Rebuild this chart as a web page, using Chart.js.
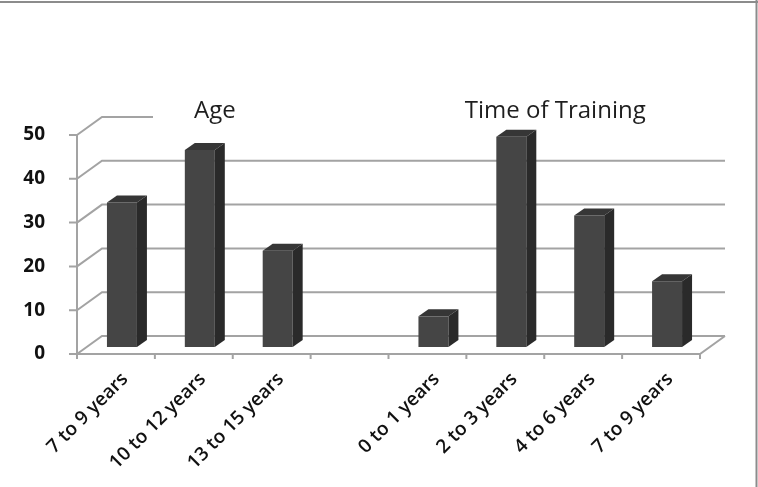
<!DOCTYPE html>
<html>
<head>
<meta charset="utf-8">
<script src="https://cdn.jsdelivr.net/npm/chart.js@4.4.1/dist/chart.umd.min.js"></script>
<style>
  html, body { margin: 0; padding: 0; background: #fff; overflow: hidden; }
  canvas { display: block; }
</style>
</head>
<body>
<canvas id="trainingChart" width="758" height="487"></canvas>
<script>
// data
var categories = ['7 to 9 years', '10 to 12 years', '13 to 15 years', '', '0 to 1 years', '2 to 3 years', '4 to 6 years', '7 to 9 years'];
var values = [33, 45, 22, null, 7, 48, 30, 15];
var yTicks = [0, 10, 20, 30, 40, 50];
var groupTitles = ['Age', 'Time of Training'];
var groupMembers = [[0, 1, 2], [4, 5, 6, 7]];
var titleNudge = [21, 11];

// fake 3d look (excel style)
var DEPTH_X = 25, DEPTH_Y = -18;
var BAR_SHIFT_X = 6, BAR_SHIFT_Y = -7;
var BAR_DX = 10, BAR_DY = -7;
var LINE = '#a3a3a3';

var wallPlugin = {
    id: 'wall3d',
    beforeDraw: function (chart) {
        var ctx = chart.ctx;
        ctx.save();
        ctx.fillStyle = '#fff';
        ctx.fillRect(0, 0, chart.width, chart.height);
        ctx.strokeStyle = '#8c8c8c';
        ctx.lineWidth = 2;
        ctx.beginPath();
        ctx.moveTo(0, 2);
        ctx.lineTo(chart.width, 2);
        ctx.moveTo(chart.width - 1.5, 0);
        ctx.lineTo(chart.width - 1.5, chart.height);
        ctx.stroke();
        ctx.restore();
    },
    beforeDatasetsDraw: function (chart) {
        var ctx = chart.ctx, a = chart.chartArea, y = chart.scales.y, x = chart.scales.x;
        var y0 = y.getPixelForValue(0);
        ctx.save();
        ctx.strokeStyle = LINE;
        ctx.lineWidth = 2;
        ctx.beginPath();
        y.ticks.forEach(function (t) {
            var py = y.getPixelForValue(t.value);
            ctx.moveTo(a.left, py);
            ctx.lineTo(a.left + DEPTH_X, py + DEPTH_Y);
            var end = t.value === y.max ? a.left + 76 : a.right + DEPTH_X;
            ctx.lineTo(end, py + DEPTH_Y);
            ctx.moveTo(a.left - 8, py);
            ctx.lineTo(a.left, py);
        });
        ctx.moveTo(a.left, a.top);
        ctx.lineTo(a.left, y0);
        ctx.lineTo(a.right, y0);
        ctx.lineTo(a.right + DEPTH_X, y0 + DEPTH_Y);
        var step = (a.right - a.left) / categories.length;
        for (var i = 0; i <= categories.length; i++) {
            ctx.moveTo(a.left + i * step, y0);
            ctx.lineTo(a.left + i * step, y0 + 5);
        }
        ctx.stroke();

        // group titles
        ctx.fillStyle = '#1e1e1e';
        ctx.font = '24px "Open Sans"';
        ctx.textAlign = 'center';
        ctx.textBaseline = 'alphabetic';
        groupTitles.forEach(function (title, g) {
            var idx = groupMembers[g];
            var cx = (x.getPixelForValue(idx[0]) + x.getPixelForValue(idx[idx.length - 1])) / 2;
            ctx.fillText(title, cx + titleNudge[g], a.top - 17);
        });
        ctx.restore();

        ctx.save();
        ctx.translate(BAR_SHIFT_X, BAR_SHIFT_Y);
    },
    afterDatasetsDraw: function (chart) {
        var ctx = chart.ctx;
        chart.getDatasetMeta(0).data.forEach(function (bar, i) {
            if (values[i] == null) return;
            var p = bar.getProps(['x', 'y', 'base', 'width'], true);
            var l = p.x - p.width / 2, r = p.x + p.width / 2;
            ctx.fillStyle = '#363636';
            ctx.beginPath();
            ctx.moveTo(l, p.y);
            ctx.lineTo(l + BAR_DX, p.y + BAR_DY);
            ctx.lineTo(r + BAR_DX, p.y + BAR_DY);
            ctx.lineTo(r, p.y);
            ctx.closePath();
            ctx.fill();
            ctx.fillStyle = '#2a2a2a';
            ctx.beginPath();
            ctx.moveTo(r, p.y);
            ctx.lineTo(r + BAR_DX, p.y + BAR_DY);
            ctx.lineTo(r + BAR_DX, p.base + BAR_DY);
            ctx.lineTo(r, p.base);
            ctx.closePath();
            ctx.fill();
        });
        ctx.restore();
    }
};

var ctx = document.getElementById('trainingChart').getContext('2d');
var trainingChart = new Chart(ctx, {
    type: 'bar',
    data: {
        labels: categories,
        datasets: [{
            data: values,
            backgroundColor: '#454545',
            borderWidth: 0,
            barPercentage: 0.385,
            categoryPercentage: 1,
            clip: false
        }]
    },
    options: {
        responsive: false,
        animation: false,
        layout: {
            padding: { top: 135, right: 58, left: 0, bottom: 0 }
        },
        plugins: {
            legend: { display: false },
            tooltip: { enabled: false }
        },
        scales: {
            x: {
                grid: { display: false },
                border: { display: false },
                ticks: {
                    autoSkip: false,
                    maxRotation: 45,
                    minRotation: 45,
                    labelOffset: 9,
                    padding: 6,
                    color: '#111',
                    font: { family: '"Open Sans"', size: 19, weight: '600' }
                },
                afterFit: function (s) { s.height = 133; }
            },
            y: {
                min: 0,
                max: 50,
                grid: { display: false },
                border: { display: false },
                ticks: {
                    padding: 24,
                    color: '#111',
                    font: { family: '"Open Sans"', size: 19, weight: 'bold' }
                },
                afterBuildTicks: function (axis) {
                    axis.ticks = yTicks.map(function (v) { return { value: v }; });
                },
                afterFit: function (s) { s.width = 77; }
            }
        }
    },
    plugins: [wallPlugin]
});
</script>
</body>
</html>
